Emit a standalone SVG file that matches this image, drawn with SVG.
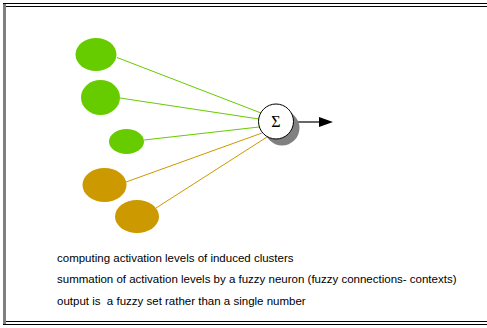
<svg xmlns="http://www.w3.org/2000/svg" width="487" height="328" viewBox="0 0 487 328">
<style>
.g{fill:#66cc00}
.o{fill:#cc9900}
.lg{stroke:#66cc00;stroke-width:1}
.lo{stroke:#cc9900;stroke-width:1}
text{font-family:"Liberation Sans",Arial,sans-serif;font-size:11.5px;fill:#000}
</style>
<defs>
<marker id="ah" markerWidth="14" markerHeight="10" refX="0" refY="5" orient="auto" markerUnits="userSpaceOnUse">
<path d="M0,0 L14,5 L0,10 Z" fill="#000"/>
</marker>
</defs>
<rect width="487" height="328" fill="#fff"/>
<g id="frame">
<rect x="3" y="3" width="3" height="322" fill="#808080"/>
<line x1="3" y1="3.5" x2="487" y2="3.5" stroke="#000" stroke-width="1.2"/>
<line x1="6" y1="6.5" x2="487" y2="6.5" stroke="#000" stroke-width="1.2"/>
<line x1="6" y1="321.5" x2="487" y2="321.5" stroke="#000" stroke-width="1.2"/>
<line x1="3" y1="324.5" x2="487" y2="324.5" stroke="#000" stroke-width="1.2"/>
</g>
<g id="connectors">
<line class="lg" x1="117" y1="57.5" x2="261" y2="113"/>
<line class="lg" x1="120" y1="98" x2="259" y2="119"/>
<line class="lg" x1="144" y1="140" x2="259" y2="127"/>
<line class="lo" x1="126" y1="182" x2="262" y2="133"/>
<line class="lo" x1="156" y1="208" x2="267" y2="137"/>
<line x1="294" y1="122" x2="319" y2="122" stroke="#000" stroke-width="1.2" marker-end="url(#ah)"/>
</g>
<g id="n1"><ellipse class="g" cx="96" cy="54.5" rx="20.5" ry="16.5"/></g>
<g id="n2"><ellipse class="g" cx="100.5" cy="97.5" rx="19.5" ry="17.5"/></g>
<g id="n3"><ellipse class="g" cx="126.5" cy="141.5" rx="17.5" ry="12.5"/></g>
<g id="n4"><ellipse class="o" cx="104.5" cy="185" rx="22" ry="17"/></g>
<g id="n5"><ellipse class="o" cx="137" cy="216.5" rx="22" ry="16.5"/></g>
<g id="sum">
<circle cx="282" cy="128" r="17.5" fill="#808080"/>
<circle cx="276" cy="121.5" r="17.5" fill="#fff" stroke="#000" stroke-width="1"/>
<text x="276" y="127" text-anchor="middle" style="font-family:'Liberation Serif','Times New Roman',serif;font-size:16px">Σ</text>
</g>
<g id="labels">
<text x="57" y="262">computing activation levels of induced clusters</text>
<text x="57" y="283">summation of activation levels by a fuzzy neuron (fuzzy connections- contexts)</text>
<text x="57" y="305" xml:space="preserve">output is  a fuzzy set rather than a single number</text>
</g>
</svg>
